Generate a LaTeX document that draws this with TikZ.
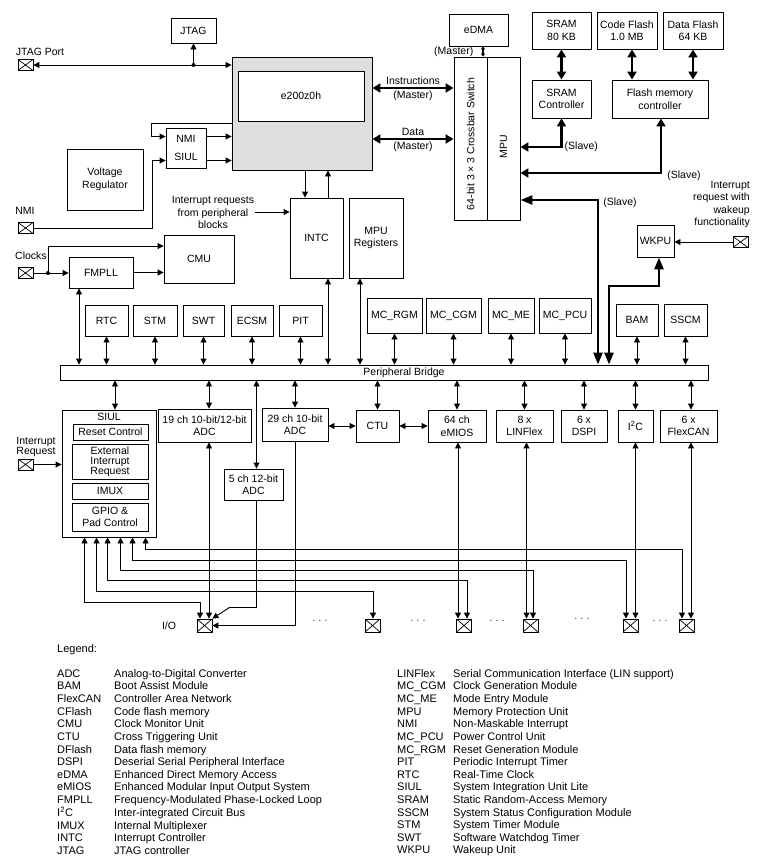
\documentclass[tikz,border=0pt]{standalone}
\usepackage{fontspec}
\setmainfont{Liberation Sans}
\usetikzlibrary{arrows.meta}
\newcommand\lab{\fontsize{10.5}{12.5}\selectfont}
\newcommand\labt{\fontsize{10.5}{9.8}\selectfont}
\newcommand\lgd{\fontsize{11}{12.62}\selectfont}
\begin{document}
\begin{tikzpicture}[x=1pt,y=-1pt,
  box/.style={draw, line width=0.9pt, inner sep=1pt, align=center, font=\lab},
  pad/.style={draw, line width=0.8pt, minimum width=15pt, minimum height=11pt, inner sep=0pt,
    path picture={\draw[line width=0.7pt] (path picture bounding box.south west) -- (path picture bounding box.north east)
      (path picture bounding box.north west) -- (path picture bounding box.south east);}},
  padb/.style={pad, minimum height=13pt},
  lbl/.style={font=\lab, inner sep=1pt, align=center},
  ln/.style={line width=0.9pt},
  a1/.style={ln, -{Triangle[length=6pt,width=6pt]}},
  a2/.style={ln, {Triangle[length=6pt,width=6pt]}-{Triangle[length=6pt,width=6pt]}},
  t2/.style={line width=2.6pt, {Triangle[length=8pt,width=9pt]}-{Triangle[length=8pt,width=9pt]}},
  t2big/.style={line width=2.6pt, {Triangle[length=12pt,width=9pt]}-{Triangle[length=12pt,width=9pt]}},
  tsmall/.style={line width=1.4pt, {Triangle[length=3pt,width=4pt]}-{Triangle[length=3pt,width=4pt]}},
  dotsn/.style={font=\fontsize{11}{12}\selectfont, text=black!75, inner sep=0pt}
]
\fill[white] (0,0) rectangle (762,865);
\useasboundingbox (0,0) rectangle (762,865);

% ---------- top left ----------
\node[box, minimum width=45pt, minimum height=25pt] (jtag) at (193.5,30.5) {JTAG};
\node[pad] (padJ) at (25.5,65) {};
\node[lbl] (tJP) at (40,52) {JTAG Port};
\node[box, fill=black!13, minimum width=140pt, minimum height=113pt] (core) at (302,113.5) {};
\node[box, fill=white, minimum width=126pt, minimum height=50pt] (e200) at (301,96) {e200z0h};
\node[box, minimum width=40pt, minimum height=40pt] (nmisiul) at (186,148) {NMI\\[6pt]SIUL};
\node[box, minimum width=76pt, minimum height=61pt] (vreg) at (105,179.5) {Voltage\\Regulator};
\node[pad] (padN) at (25.5,228) {};
\node[lbl] (tN) at (25,211) {NMI};
\node[lbl] (tIRQ) at (213,212.5) {Interrupt requests\\from peripheral\\blocks};
\node[box, minimum width=53pt, minimum height=80pt] (intc) at (316.5,238) {INTC};
\node[box, minimum width=54pt, minimum height=80pt] (mpureg) at (376,238) {MPU\\Registers};
\node[pad] (padC) at (25.5,273) {};
\node[lbl] (tC) at (31,256) {Clocks};
\node[box, minimum width=64pt, minimum height=31pt] (fmpll) at (101,272.5) {FMPLL};
\node[box, minimum width=70pt, minimum height=48pt] (cmu) at (199,259) {CMU};

% ---------- top right ----------
\node[box, minimum width=59pt, minimum height=32pt] (edma) at (478.5,30) {eDMA};
\node[box, minimum width=33pt, minimum height=163pt] (xbar) at (470.5,138.5) {};
\node[box, minimum width=33pt, minimum height=163pt] (mpu) at (503.5,138.5) {};
\node[lbl, rotate=90] (tXb) at ([yshift=-5.5pt]xbar.center) {64-bit 3 × 3 Crossbar Switch};
\node[lbl, rotate=90] (tMpu) at ([yshift=-8.5pt]mpu.center) {MPU};
\node[box, minimum width=59pt, minimum height=37pt] (sram) at (561.5,30.5) {SRAM\\80 KB};
\node[box, minimum width=60pt, minimum height=37pt] (cflash) at (627,30.5) {Code Flash\\1.0 MB};
\node[box, minimum width=60pt, minimum height=37pt] (dflash) at (693,30.5) {Data Flash\\64 KB};
\node[box, minimum width=59pt, minimum height=38pt] (sramc) at (561.5,99) {SRAM\\Controller};
\node[box, minimum width=96pt, minimum height=38pt] (flashc) at (660,99) {Flash memory\\controller};
\node[box, minimum width=37pt, minimum height=32pt] (wkpu) at (655.5,241) {WKPU};
\node[pad] (padW) at (740.5,242) {};
\node[lbl, anchor=east, align=right, font=\fontsize{10.5}{12.3}\selectfont] (tWK) at (751,204.5) {Interrupt\\request with\\wakeup\\functionality};

% ---------- peripherals above bridge ----------
\node[box, minimum width=43pt, minimum height=31pt] (rtc) at (106.5,320.5) {RTC};
\node[box, minimum width=44pt, minimum height=31pt] (stm) at (155,320.5) {STM};
\node[box, minimum width=41pt, minimum height=31pt] (swt) at (203.5,320.5) {SWT};
\node[box, minimum width=42pt, minimum height=31pt] (ecsm) at (252,320.5) {ECSM};
\node[box, minimum width=43pt, minimum height=31pt] (pit) at (300.5,320.5) {PIT};
\node[box, minimum width=55pt, minimum height=35pt] (mcrgm) at (394.5,315.5) {MC\_RGM};
\node[box, minimum width=55pt, minimum height=35pt] (mccgm) at (453.5,315.5) {MC\_CGM};
\node[box, minimum width=46pt, minimum height=35pt] (mcme) at (511,315.5) {MC\_ME};
\node[box, minimum width=52pt, minimum height=35pt] (mcpcu) at (565,315.5) {MC\_PCU};
\node[box, minimum width=42pt, minimum height=32pt] (bam) at (637,320) {BAM};
\node[box, minimum width=43pt, minimum height=32pt] (sscm) at (685.5,320) {SSCM};

\node[box, minimum width=648pt, minimum height=15pt] (bridge) at (384,372.5) {};
\node[lbl] (tPB) at (404,372.5) {Peripheral Bridge};

% ---------- peripherals below bridge ----------
\node[box, minimum width=94pt, minimum height=127pt] (siul) at (109,473.5) {};
\node[lbl] (tSiul) at (109,417) {SIUL};
\node[box, minimum width=75pt, minimum height=16pt] (reset) at (110.5,432) {Reset Control};
\node[box, minimum width=76pt, minimum height=35pt, font=\labt] (extint) at (110,461.5) {External\\Interrupt\\Request};
\node[box, minimum width=76pt, minimum height=16pt] (imux) at (110,491) {IMUX};
\node[box, minimum width=76pt, minimum height=28pt] (gpio) at (110,517) {GPIO \&\\Pad Control};
\node[pad] (padI) at (25.5,464.5) {};
\node[lbl, font=\labt] (tIR) at (36,447) {Interrupt\\Request};
\node[box, minimum width=93pt, minimum height=33pt] (adc19) at (204.5,425.5) {19 ch 10-bit/12-bit\\ADC};
\node[box, minimum width=66pt, minimum height=33pt] (adc29) at (295,424.5) {29 ch 10-bit\\ADC};
\node[box, minimum width=59pt, minimum height=31pt] (adc5) at (253.5,484.5) {5 ch 12-bit\\ADC};
\node[box, minimum width=43pt, minimum height=32pt] (ctu) at (377.5,426) {CTU};
\node[box, minimum width=58pt, minimum height=32pt] (emios) at (457,426) {64 ch\\eMIOS};
\node[box, minimum width=57pt, minimum height=32pt, font=\labt] (linflex) at (524.5,426) {8 x\\[2pt]LINFlex};
\node[box, minimum width=46pt, minimum height=32pt] (dspi) at (584,426) {6 x\\DSPI};
\node[box, minimum width=35pt, minimum height=32pt] (i2c) at (635.5,426) {I\textsuperscript{2}C};
\node[box, minimum width=57pt, minimum height=32pt] (flexcan) at (688.5,426) {6 x\\FlexCAN};

% ---------- I/O pads ----------
\node[padb] (io) at (204.5,625.5) {};
\node[lbl] (tIO) at (169,626) {I/O};
\node[padb] (p2) at (372.5,625.5) {};
\node[padb] (pEm) at (464,625.5) {};
\node[padb] (pLin) at (530.5,625.5) {};
\node[padb] (pI2c) at (630.5,625.5) {};
\node[padb] (pFc) at (686.5,625.5) {};
\node[dotsn] (d1) at (320,621) {.\hspace{3pt}.\hspace{3pt}.};
\node[dotsn] (d2) at (418,621) {.\hspace{3pt}.\hspace{3pt}.};
\node[dotsn] (d3) at (497,621) {.\hspace{3pt}.\hspace{3pt}.};
\node[dotsn] (d4) at (582,619) {.\hspace{3pt}.\hspace{3pt}.};
\node[dotsn] (d5) at (660,621) {.\hspace{3pt}.\hspace{3pt}.};

% ---------- lane coordinates ----------
\coordinate (jdot) at (padJ.east -| jtag.south);
\coordinate (yNMI) at (0,136.5);
\coordinate (ySIUL) at (0,160.5);
\coordinate (yLoop) at (0,123);
\coordinate (xLoop) at (151,0);
\coordinate (xNMI) at (152,0);
\coordinate (irqs) at (255,212);
\coordinate (xDn) at (305,0);
\coordinate (xUp) at (328,0);
\coordinate (xMR) at (360,0);
\coordinate (xCd) at (48,0);
\coordinate (cdot) at (padC.east -| xCd);
\coordinate (yCMU) at (0,246);
\coordinate (xFM) at (79,0);
\coordinate (yI) at (0,88);
\coordinate (yD) at (0,139);
\coordinate (xE) at (483,0);
\coordinate (xCF) at (632,0);
\coordinate (yS1) at (0,147);
\coordinate (yS2) at (0,173);
\coordinate (yS3) at (0,200);
\coordinate (xFl) at (661,0);
\coordinate (xSl) at (598,0);
\coordinate (xW1) at (659,0);
\coordinate (xW2) at (609,0);
\coordinate (yW) at (0,286);
\coordinate (siT) at ([xshift=6pt]siul.north);
\coordinate (a19t) at ([xshift=4.5pt]adc19.north);
\coordinate (a19b) at ([xshift=4.5pt]adc19.south);
\coordinate (a5t) at ([xshift=3pt]adc5.north);
\coordinate (a5b) at ([xshift=3pt]adc5.south);
\coordinate (fcT) at ([xshift=2.5pt]flexcan.north);
\coordinate (fcB) at ([xshift=2.5pt]flexcan.south);
\coordinate (emB) at ([xshift=1pt]emios.south);
\coordinate (linB) at ([xshift=2pt]linflex.south);

% ---------- connectors: top left ----------
\draw[a2] (padJ.east) -- (padJ.east -| core.west);
\fill (jdot) circle (2pt);
\draw[a1] (jdot) -- (jtag.south);
\draw[a1] (nmisiul.east |- yNMI) -- (core.west |- yNMI);
\draw[a1] (nmisiul.east |- ySIUL) -- (core.west |- ySIUL);
\draw[a1] (core.west |- yLoop) -| (xLoop |- yNMI) -- (nmisiul.west |- yNMI);
\draw[a1] (padN.east) -| (xNMI |- ySIUL) -- (nmisiul.west |- ySIUL);
\draw[a1] (irqs) -- (irqs -| intc.west);
\draw[a1] (xDn |- core.south) -- (xDn |- intc.north);
\draw[a1] (xUp |- intc.north) -- (xUp |- core.south);
\draw[a2] (xUp |- intc.south) -- (xUp |- bridge.north);
\draw[a2] (xMR |- mpureg.south) -- (xMR |- bridge.north);
\draw[a1] (padC.east) -- (padC.east -| fmpll.west);
\fill (cdot) circle (2pt);
\draw[a1] (cdot) |- (cmu.west |- yCMU);
\draw[a1] (fmpll.east) -- (fmpll.east -| cmu.west);
\draw[a2] (xFM |- fmpll.south) -- (xFM |- bridge.north);

% ---------- connectors: crossbar and memories ----------
\draw[t2] (core.east |- yI) -- (xbar.west |- yI)
  node[midway, above=1pt, lbl] (tIn) {Instructions}
  node[midway, below=1pt, lbl] (tInM) {(Master)};
\draw[t2] (core.east |- yD) -- (xbar.west |- yD)
  node[midway, above=1pt, lbl] (tDa) {Data}
  node[midway, below=1pt, lbl] (tDaM) {(Master)};
\draw[tsmall] (xE |- edma.south) -- (xE |- xbar.north)
  node[midway, left=8pt, lbl] (tEM) {(Master)};
\draw[t2] (sram.south) -- (sramc.north);
\draw[t2] (xCF |- cflash.south) -- (xCF |- flashc.north);
\draw[t2] (dflash.south) -- (dflash.south |- flashc.north);
\draw[t2] (sramc.south) |- (mpu.east |- yS1);
\node[lbl, anchor=west] (tS1) at ([xshift=2pt]sramc.south |- yS1) {(Slave)};
\draw[t2] (xFl |- flashc.south) |- (mpu.east |- yS2);
\node[lbl] (tS2) at (684,176) {(Slave)};
\draw[t2big] (mpu.east |- yS3) -| (xSl |- bridge.north);
\node[lbl] (tS3) at (620,203) {(Slave)};
\draw[t2big] (xW1 |- wkpu.south) |- (xW2 |- yW) -- (xW2 |- bridge.north);
\draw[a1] (padW.west) -- (padW.west -| wkpu.east);

% ---------- bridge connections ----------
\foreach \n in {rtc,stm,swt,ecsm,pit,mcrgm,mccgm,mcme,mcpcu,bam,sscm}
  \draw[a2] (\n.south) -- (\n.south |- bridge.north);
\draw[a2] (siT) -- (siT |- bridge.south);
\draw[a2] (a19t) -- (a19t |- bridge.south);
\draw[a2] (a5t) -- (a5t |- bridge.south);
\draw[a2] (fcT) -- (fcT |- bridge.south);
\foreach \n in {adc29,ctu,emios,linflex,dspi,i2c}
  \draw[a2] (\n.north) -- (\n.north |- bridge.south);
\draw[a2] (ctu.west) -- (ctu.west -| adc29.east);
\draw[a2] (ctu.east) -- (ctu.east -| emios.west);
\draw[a1] (padI.east) -- (padI.east -| siul.west);

% ---------- I/O wiring ----------
\draw[a2] (a19b) -- (a19b |- io.north);
\draw[a2] (emB) -- (emB |- pEm.north);
\draw[a2] (linB) -- (linB |- pLin.north);
\draw[a2] (i2c.south) -- (i2c.south |- pI2c.north);
\draw[a2] (fcB) -- (fcB |- pFc.north);
\draw[a2] ([xshift=84pt]siul.south west) -- ++(0,12) -| ([xshift=-4.5pt]pFc.north);
\draw[a2] ([xshift=71pt]siul.south west) -- ++(0,23) -| ([xshift=-4.5pt]pI2c.north);
\draw[a2] ([xshift=59pt]siul.south west) -- ++(0,33) -| ([xshift=2.5pt]pLin.north);
\draw[a2] ([xshift=46pt]siul.south west) -- ++(0,43) -| ([xshift=3pt]pEm.north);
\draw[a2] ([xshift=35pt]siul.south west) -- ++(0,54) -| ([xshift=0.5pt]p2.north);
\draw[a2] ([xshift=23pt]siul.south west) -- ++(0,65) -| ([xshift=-4.5pt]io.north);
\draw[a1] (a5b) -- ++(0,107) -- ++(-27,0) -- (io.north east);
\draw[a1] (adc29.south) |- (io.east);

% ---------- legend ----------
\node[anchor=base west, font=\lgd, inner sep=0pt] (lgT) at (57,652) {Legend:};
\node[anchor=base west, font=\lgd, inner sep=0pt] (lgL) at (57,677.3) {%
\begin{tabular}[t]{@{}p{57pt}@{}l@{}}
ADC & Analog-to-Digital Converter\\
BAM & Boot Assist Module\\
FlexCAN & Controller Area Network\\
CFlash & Code flash memory\\
CMU & Clock Monitor Unit\\
CTU & Cross Triggering Unit\\
DFlash & Data flash memory\\
DSPI & Deserial Serial Peripheral Interface\\
eDMA & Enhanced Direct Memory Access\\
eMIOS & Enhanced Modular Input Output System\\
FMPLL & Frequency-Modulated Phase-Locked Loop\\
I\textsuperscript{2}C & Inter-integrated Circuit Bus\\
IMUX & Internal Multiplexer\\
INTC & Interrupt Controller\\
JTAG & JTAG controller
\end{tabular}};
\node[anchor=base west, font=\lgd, inner sep=0pt] (lgR) at (397,677.3) {%
\begin{tabular}[t]{@{}p{56pt}@{}l@{}}
LINFlex & Serial Communication Interface (LIN support)\\
MC\_CGM & Clock Generation Module\\
MC\_ME & Mode Entry Module\\
MPU & Memory Protection Unit\\
NMI & Non-Maskable Interrupt\\
MC\_PCU & Power Control Unit\\
MC\_RGM & Reset Generation Module\\
PIT & Periodic Interrupt Timer\\
RTC & Real-Time Clock\\
SIUL & System Integration Unit Lite\\
SRAM & Static Random-Access Memory\\
SSCM & System Status Configuration Module\\
STM & System Timer Module\\
SWT & Software Watchdog Timer\\
WKPU & Wakeup Unit
\end{tabular}};
\end{tikzpicture}
\end{document}
